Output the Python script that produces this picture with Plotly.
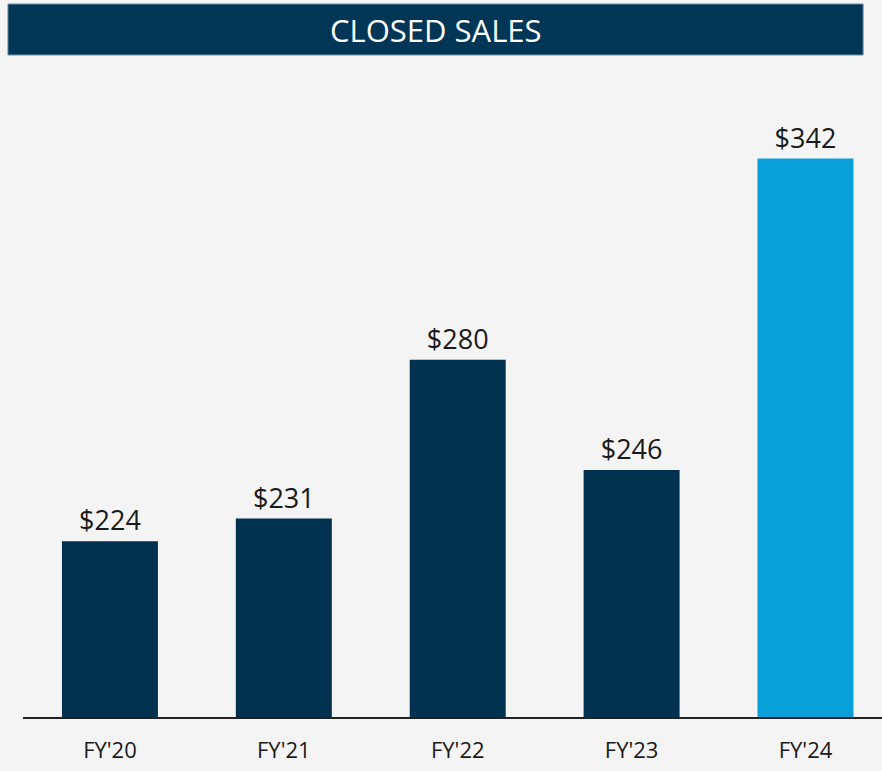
import plotly.graph_objects as go

# Closed sales by fiscal year ($)
years = ["FY'20", "FY'21", "FY'22", "FY'23", "FY'24"]
sales = [224, 231, 280, 246, 342]
labels = ["$224", "$231", "$280", "$246", "$342"]
bar_colors = ["#00324f", "#00324f", "#00324f", "#00324f", "#09a0d9"]

fig = go.Figure()
fig.add_trace(go.Bar(
    x=years, y=sales,
    marker=dict(color=bar_colors, line=dict(width=0)),
    text=labels, textposition="outside", cliponaxis=False,
    textfont=dict(size=27, color="#1a1a1a", family="Open Sans, sans-serif"),
    width=0.552,
))

# title banner (plot area spans y 60..717.5 px, x 23..882 px)
fig.add_shape(type="rect", xref="paper", yref="paper",
              x0=-0.0175, x1=0.978, y0=1.0076, y1=1.0852,
              fillcolor="#013656", line=dict(color="#6f8ea6", width=1), layer="above")
fig.add_annotation(text="CLOSED SALES", xref="paper", yref="paper",
                   x=0.4808, y=1.0456, showarrow=False, yanchor="middle",
                   font=dict(size=31, color="white", family="Open Sans, sans-serif"))

fig.update_xaxes(range=[-0.5, 4.44], showline=True, linecolor="#222222", linewidth=1.5,
                 ticks="", ticklabelstandoff=13,
                 tickfont=dict(size=22, color="#1a1a1a", family="Open Sans, sans-serif"),
                 showgrid=False)
fig.update_yaxes(range=[169.8, 372.4], visible=False, showgrid=False)

fig.update_layout(width=882, height=771,
                  margin=dict(l=23, r=0, t=60, b=53.5, autoexpand=False),
                  plot_bgcolor="#f4f4f4", paper_bgcolor="#f4f4f4",
                  showlegend=False)

fig.write_html("out.html", config={"displayModeBar": False},
               post_script="document.body.style.margin='0';document.body.style.overflow='hidden';")
